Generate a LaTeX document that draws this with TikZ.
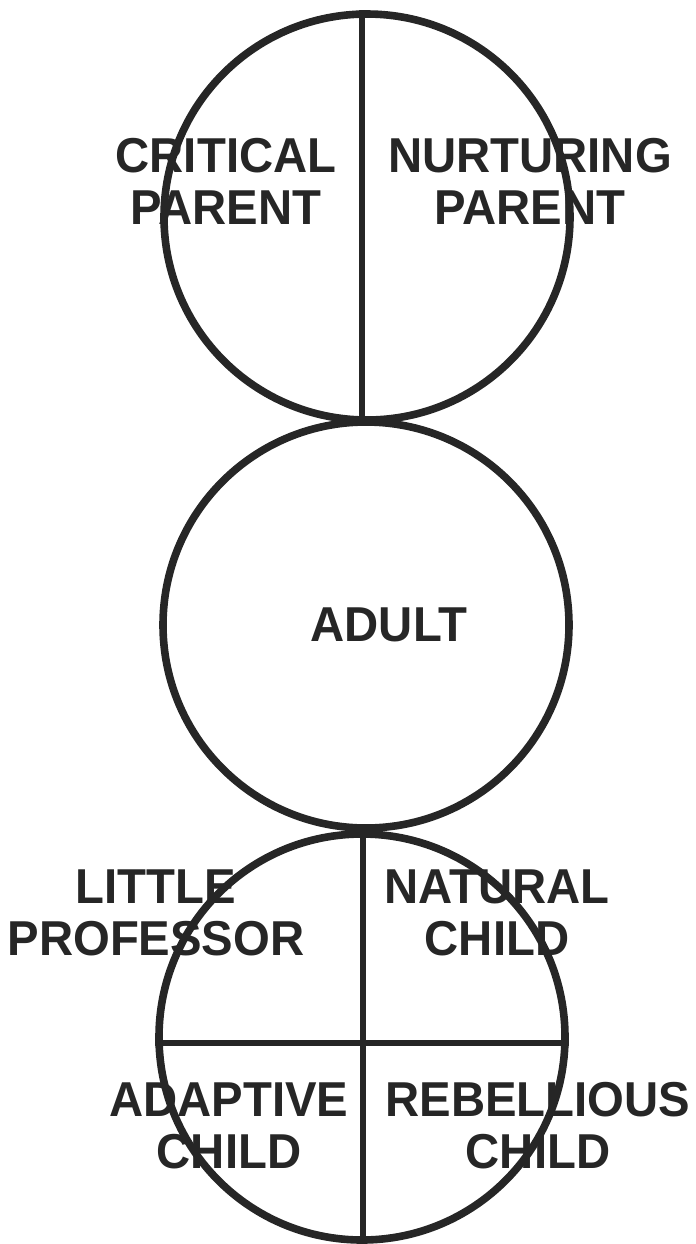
\documentclass[tikz,border=0pt]{standalone}
\usepackage{fontspec}
\setmainfont{Liberation Sans}
\newfontfamily\lblfont{Liberation Sans}[FakeStretch=0.965]
\begin{document}
\begin{tikzpicture}[x=0.5pt,y=-0.5pt,
  ring/.style={circle, draw=black!85, line width=3.8pt, minimum size=203pt, inner sep=0pt},
  divider/.style={draw=black!85, line width=3.4pt},
  lbl/.style={font=\lblfont\bfseries\fontsize{24.5}{26}\selectfont, align=center, text=black!85, inner sep=0pt}]
\useasboundingbox (0,0) rectangle (696,1244);
% labels first (circles drawn over them)
\node[lbl] (cp) at (226,181) {CRITICAL\\PARENT};
\node[lbl] (np) at (530,181) {NURTURING\\PARENT};
\node[lbl] (ad) at (389,625) {ADULT};
\node[lbl] (lp) at (156,913) {LITTLE\\PROFESSOR};
\node[lbl] (nc) at (497,913) {NATURAL\\CHILD};
\node[lbl] (ac) at (229,1126) {ADAPTIVE\\CHILD};
\node[lbl] (rc) at (538,1126) {REBELLIOUS\\CHILD};
% circles
\node[ring] (P) at (367,217) {};
\node[ring] (A) at (366,625) {};
\node[ring] (C) at (362,1037) {};
% dividers
\draw[divider] (P.north) ++(-5,0) coordinate (pt) -- (pt |- P.south);
\draw[divider] (C.west |- 0,1043) coordinate (cl) -- (C.east |- cl);
\draw[divider] (C.north) ++(1,8) coordinate (ct) -- (ct |- C.south);
\end{tikzpicture}
\end{document}
